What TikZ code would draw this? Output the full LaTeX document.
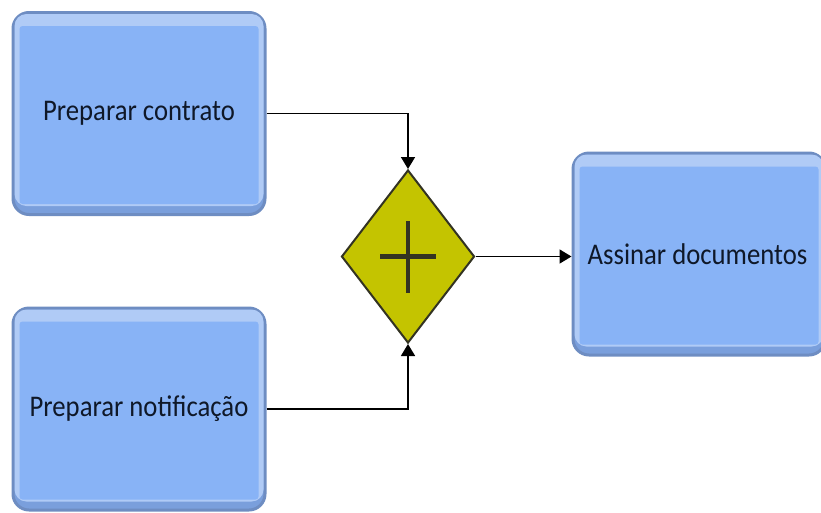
\documentclass[tikz,border=0pt]{standalone}
\usepackage{fontspec}
\setmainfont{Carlito}
\newfontfamily\labelfont[FakeStretch=0.89]{Carlito}
\usetikzlibrary{shapes.geometric,arrows.meta}
\definecolor{boxfill}{HTML}{88B3F6}
\definecolor{boxedge}{HTML}{6E8DC2}
\definecolor{boxlight}{HTML}{B0CBF6}
\definecolor{boxdark}{HTML}{7A9FDC}
\definecolor{gwfill}{HTML}{C4C400}
\definecolor{gwedge}{HTML}{333322}
\definecolor{txt}{HTML}{0F1828}
\tikzset{
  task/.style={draw=boxedge, line width=3pt, fill=boxdark, rounded corners=16pt,
    minimum width=252pt, minimum height=202pt, inner sep=0pt},
  tasktext/.style={text=txt, font=\labelfont\fontsize{30}{34}\selectfont, inner sep=0pt},
  gateway/.style={diamond, draw=gwedge, line width=2pt, fill=gwfill,
    minimum width=133pt, minimum height=173pt, inner sep=0pt, aspect=0.77},
  flow/.style={draw=black, line width=1.6pt, -{Triangle[length=12pt,width=14pt]}}
}
\begin{document}
\begin{tikzpicture}[x=1pt,y=-1pt]
\useasboundingbox (0,0) rectangle (821,512);
\node[task] (a) at (139,113.5) {};
\node[task] (b) at (139,409) {};
\node[task] (c) at (699,254) {};
% inner highlight
\foreach \n in {a,b,c}{
  \fill[boxlight, rounded corners=12pt]
    ([shift={(3pt,-3pt)}]\n.north west) rectangle ([shift={(-3pt,10pt)}]\n.south east);
  \fill[boxfill, rounded corners=3pt]
    ([shift={(8pt,-15pt)}]\n.north west) rectangle ([shift={(-8pt,12pt)}]\n.south east);
}
\node[tasktext] (ta) at (a.center) {Preparar contrato};
\node[tasktext] (tb) at (b.center) {Preparar notificação};
\node[tasktext, anchor=west] (tc) at ([xshift=16pt,yshift=0pt]c.west) {Assinar documentos};
\node[gateway] (g) at (408,256.5) {};
\draw[gwedge, line width=4.5pt] ([xshift=-28pt]g.center) -- ([xshift=28pt]g.center);
\draw[gwedge, line width=4.5pt] ([yshift=-36pt]g.center) -- ([yshift=36pt]g.center);
\draw[flow] (a.east) -| (g.north);
\draw[flow] (b.east) -| (g.south);
\draw[flow] (g.east) -- (g.east -| c.west);
\end{tikzpicture}
\end{document}
